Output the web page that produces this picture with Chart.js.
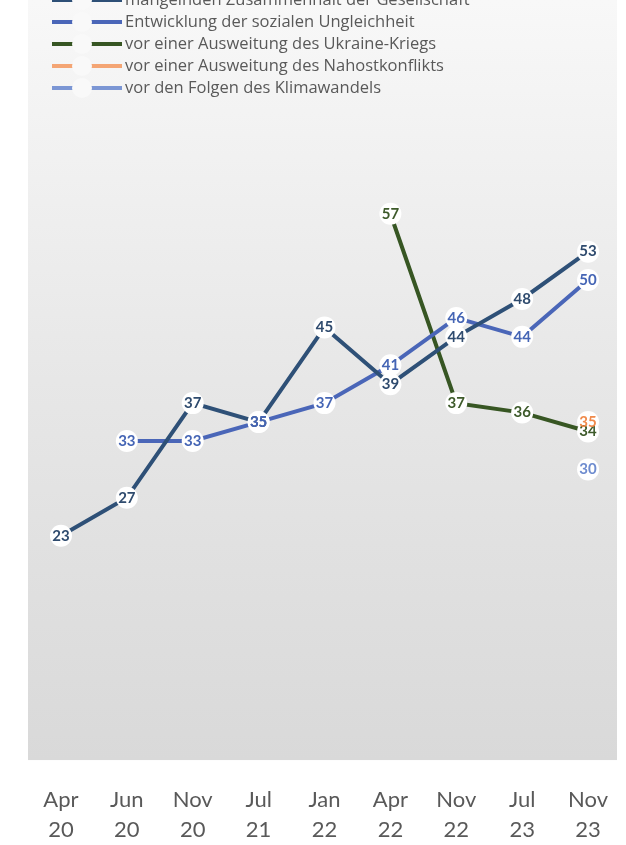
<!DOCTYPE html>
<html>
<head>
<meta charset="utf-8">
<script src="https://cdn.jsdelivr.net/npm/chart.js@4"></script>
<style>
html,body{margin:0;padding:0;background:#ffffff;overflow:hidden;}
#wrap{width:626px;height:845px;position:relative;overflow:hidden;}
canvas{display:block;width:626px;height:845px;}
</style>
</head>
<body>
<div id="wrap"><canvas id="c" width="626" height="845"></canvas></div>
<script>
// ---- data ----
const categories = [["Apr","20"],["Jun","20"],["Nov","20"],["Jul","21"],["Jan","22"],["Apr","22"],["Nov","22"],["Jul","23"],["Nov","23"]];
const seriesNames = [
  "mangelnden Zusammenhalt der Gesellschaft",
  "Entwicklung der sozialen Ungleichheit",
  "vor einer Ausweitung des Ukraine-Kriegs",
  "vor einer Ausweitung des Nahostkonflikts",
  "vor den Folgen des Klimawandels"
];
const zusammenhalt = [23, 27, 37, 35, 45, 39, 44, 48, 53];
const ungleichheit = [null, 33, 33, 35, 37, 41, 46, 44, 50];
const ukraine      = [null, null, null, null, null, 57, 37, 36, 34];
const nahost       = [null, null, null, null, null, null, null, null, 35];
const klima        = [null, null, null, null, null, null, null, null, 30];

// ---- styles ----
const lineColors  = ["#2E5077", "#4A66B8", "#375623", "#F4A574", "#7B96D4"];
const labelColors = ["#2F4B6E", "#4565B5", "#3D5A2A", "#F08A4B", "#6E8CCF"];
const seriesValues = [zusammenhalt, ungleichheit, ukraine, nahost, klima];

const datasets = seriesValues.map((vals, i) => ({
  label: seriesNames[i],
  data: vals,
  borderColor: lineColors[i],
  backgroundColor: lineColors[i],
  borderWidth: 4,
  pointRadius: 11,
  pointHoverRadius: 11,
  pointBackgroundColor: "#ffffff",
  pointBorderWidth: 0,
  tension: 0,
  spanGaps: false
}));

const bgPlugin = {
  id: "bg",
  beforeDraw(chart) {
    const {ctx, chartArea: a} = chart;
    const bottom = chart.scales.y.getPixelForValue(-0.7);
    const g = ctx.createLinearGradient(0, a.top, 0, bottom);
    g.addColorStop(0, "#f8f8f8");
    g.addColorStop(0.5, "#e7e7e7");
    g.addColorStop(1, "#d9d9d9");
    ctx.save();
    ctx.fillStyle = g;
    ctx.fillRect(a.left, a.top, a.right - a.left - 4, bottom - a.top);
    ctx.restore();
  }
};

const legendPlugin = {
  id: "customLegend",
  afterDraw(chart) {
    const ctx = chart.ctx;
    const y0 = 0, dy = 22;
    ctx.save();
    chart.data.datasets.forEach((ds, i) => {
      const y = y0 + i * dy;
      ctx.strokeStyle = ds.borderColor;
      ctx.lineWidth = 4;
      ctx.beginPath();
      ctx.moveTo(52, y);
      ctx.lineTo(122, y);
      ctx.stroke();
      ctx.fillStyle = "#f9f9f9";
      ctx.beginPath();
      ctx.arc(82, y, 10, 0, Math.PI * 2);
      ctx.fill();
      ctx.fillStyle = "#595959";
      ctx.font = "16.5px 'Open Sans'";
      ctx.textBaseline = "middle";
      ctx.textAlign = "left";
      ctx.fillText(ds.label, 125, y);
    });
    ctx.restore();
  }
};

const labelPlugin = {
  id: "valueLabels",
  afterDatasetsDraw(chart) {
    const ctx = chart.ctx;
    ctx.save();
    ctx.font = "bold 15px Lato";
    ctx.textAlign = "center";
    ctx.textBaseline = "middle";
    chart.data.datasets.forEach((ds, i) => {
      const meta = chart.getDatasetMeta(i);
      meta.data.forEach((pt, j) => {
        const v = ds.data[j];
        if (v === null || v === undefined) return;
        ctx.fillStyle = labelColors[i];
        ctx.fillText(String(v), pt.x, pt.y);
      });
    });
    ctx.restore();
  }
};

new Chart(document.getElementById("c"), {
  type: "line",
  data: { labels: categories, datasets },
  options: {
    responsive: false,
    maintainAspectRatio: false,
    animation: false,
    devicePixelRatio: 1,
    layout: { autoPadding: false, padding: { left: 28, right: 5, top: 0, bottom: -17 } },
    plugins: { legend: { display: false }, tooltip: { enabled: false } },
    scales: {
      x: {
        type: "category",
        offset: true,
        grid: { display: false, drawTicks: false },
        border: { display: false },
        ticks: {
          color: "#595959",
          font: { family: "Lato", size: 22, lineHeight: "30px" },
          padding: 17,
          maxRotation: 0,
          autoSkip: false
        }
      },
      y: { display: false, min: -1.54, max: 79.58 }
    }
  },
  plugins: [bgPlugin, labelPlugin, legendPlugin]
});
</script>
</body>
</html>
